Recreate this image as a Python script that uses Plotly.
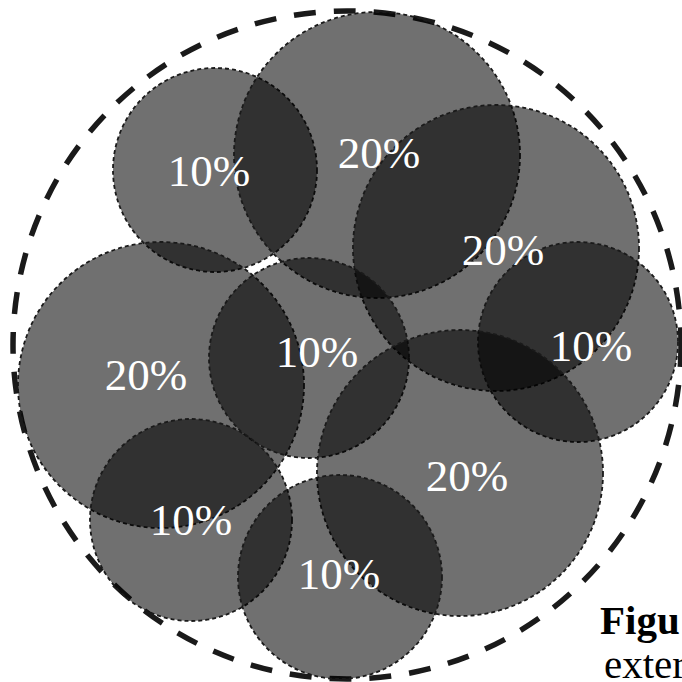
import plotly.graph_objects as go

# circle centres / radii (in picture units, y downwards)
cx = [215, 377, 496, 578, 161, 309, 460, 191, 340]
cy = [170, 155, 248, 342, 385, 358, 473, 520, 577]
rad = [102, 143, 143, 100, 143, 100, 143, 101, 102]

labels = ["10%", "20%", "20%", "10%", "20%", "10%", "20%", "10%", "10%"]
label_x = [209, 379, 503, 591, 146, 317, 467, 191, 339]
label_y = [175, 157, 254, 350, 379, 356, 480, 524, 578]

# outer dashed boundary
outer_cx = 347
outer_cy = 345
outer_r = 334

caption = ["Figu", "exter"]

fig = go.Figure()

shapes = []
shapes.append(dict(type="circle", xref="x", yref="y",
                   x0=outer_cx - outer_r, x1=outer_cx + outer_r,
                   y0=outer_cy - outer_r, y1=outer_cy + outer_r,
                   line=dict(color="#1a1a1a", width=5.5, dash="22px,18px"),
                   fillcolor="rgba(0,0,0,0)", layer="below"))
for x, y, r in zip(cx, cy, rad):
    shapes.append(dict(type="circle", xref="x", yref="y",
                       x0=x - r, x1=x + r, y0=y - r, y1=y + r,
                       line=dict(color="#1a1a1a", width=1.8, dash="4px,3px"),
                       fillcolor="rgba(0,0,0,0.56)", layer="below"))

fig.add_trace(go.Scatter(x=label_x, y=label_y, text=labels, mode="text",
                         textfont=dict(family="Liberation Serif, Times New Roman, serif",
                                       size=45, color="white"),
                         hoverinfo="skip", showlegend=False, cliponaxis=False))

fig.update_layout(shapes=shapes)

fig.add_annotation(x=598, y=620, xref="x", yref="y", text="<b>" + caption[0] + "</b>",
                   showarrow=False, xanchor="left", yanchor="middle",
                   font=dict(family="Liberation Serif, serif", size=41, color="black"))
fig.add_annotation(x=602, y=664, xref="x", yref="y", text=caption[1],
                   showarrow=False, xanchor="left", yanchor="middle",
                   font=dict(family="Liberation Serif, serif", size=41, color="black"))

fig.update_xaxes(range=[0, 682], visible=False)
fig.update_yaxes(range=[682, 0], visible=False)
fig.update_layout(width=682, height=682, margin=dict(l=0, r=0, t=0, b=0),
                  plot_bgcolor="white", paper_bgcolor="white")

fig.write_html("out.html", config={"displayModeBar": False},
               post_script="document.body.style.margin='0';document.body.style.overflow='hidden';")
